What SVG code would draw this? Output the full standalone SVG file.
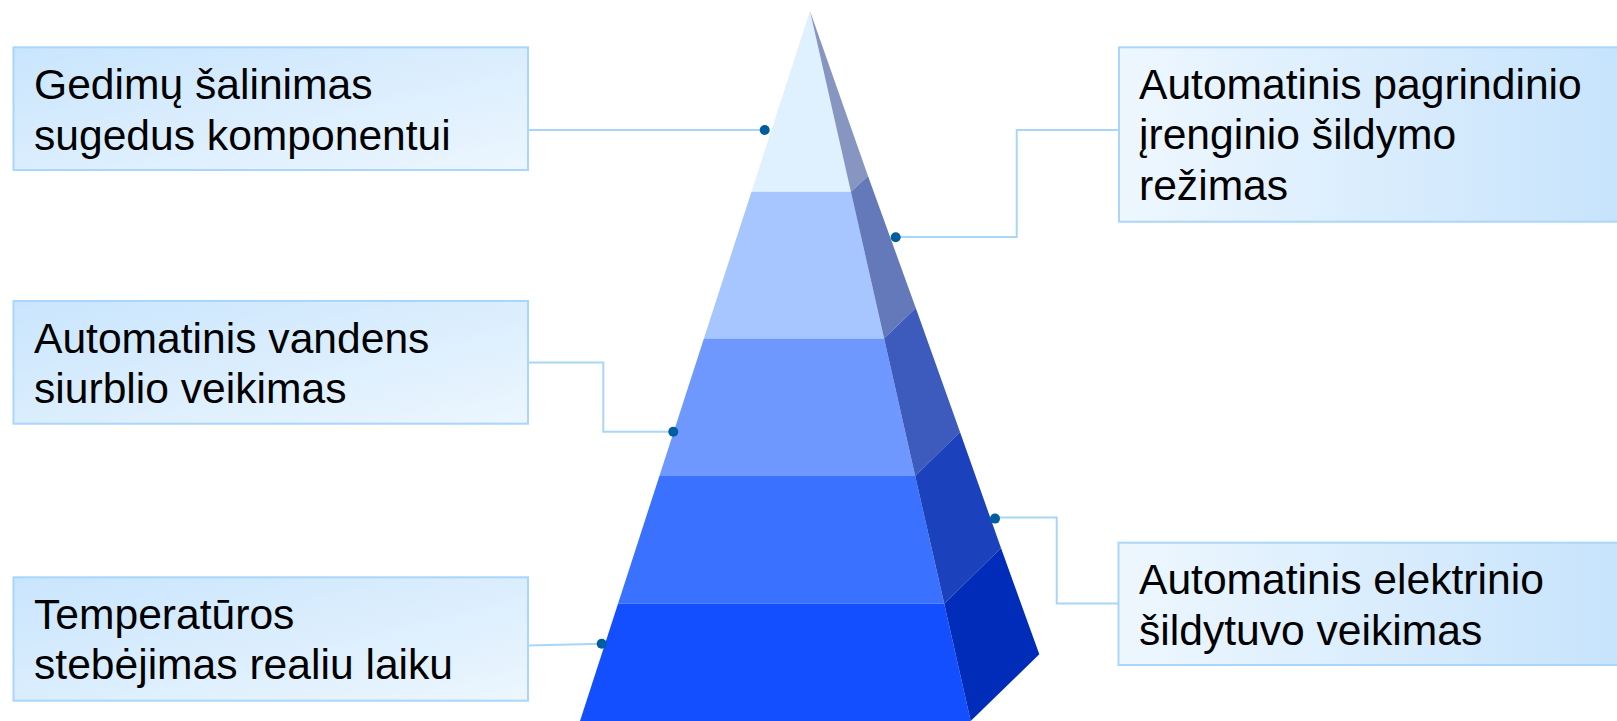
<svg xmlns="http://www.w3.org/2000/svg" width="1617" height="721" viewBox="0 0 1617 721">
  <defs>
    <linearGradient id="gl" x1="0" y1="0" x2="1" y2="1">
      <stop offset="0" stop-color="#C9E5FD"/>
      <stop offset="1" stop-color="#ECF6FE"/>
    </linearGradient>
    <linearGradient id="gr" x1="0" y1="0" x2="1" y2="0">
      <stop offset="0" stop-color="#EEF7FE"/>
      <stop offset="1" stop-color="#C6E3FC"/>
    </linearGradient>
    <style>
      .box { stroke: #A9D6FA; stroke-width: 2; }
      .bl { fill: url(#gl); }
      .br { fill: url(#gr); }
      .t { font-family: "Liberation Sans", Arial, sans-serif; font-size: 42.6px; fill: #000; }
      .c { fill: none; stroke: #A9D6F7; stroke-width: 2; }
      .dot { fill: #005E9E; }
    </style>
  </defs>
  <rect width="1617" height="721" fill="#FFFFFF"/>

  <g id="pyramid">
    <polygon points="810,11 751.5,191.7 850.9,191.7" fill="#DFF0FF"/>
    <polygon points="751.5,191.7 703.9,338.4 884.1,338.4 850.9,191.7" fill="#A7C5FF"/>
    <polygon points="703.9,338.4 659.4,475.9 915.2,475.9 884.1,338.4" fill="#6F98FF"/>
    <polygon points="659.4,475.9 618,603.7 944.2,603.7 915.2,475.9" fill="#3B71FF"/>
    <polygon points="618,603.7 580,721 970.7,721 944.2,603.7" fill="#144FFF"/>
    <polygon points="810,11 850.9,191.7 868,176" fill="#8796C0"/>
    <polygon points="850.9,191.7 884.1,338.4 915.8,308 868,176" fill="#6479BA"/>
    <polygon points="884.1,338.4 915.2,475.9 960,432 915.8,308" fill="#3D5BBD"/>
    <polygon points="915.2,475.9 944.2,603.7 1001,548 960,432" fill="#1B41BD"/>
    <polygon points="944.2,603.7 970.7,721 1039.3,654.3 1001,548" fill="#002CBA"/>
  </g>

  <g id="connectors">
    <polyline class="c" points="528,130 764.7,130"/>
    <polyline class="c" points="895.7,237 1016.7,237 1016.7,130 1119,130"/>
    <polyline class="c" points="528,362.5 603.3,362.5 603.3,431.7 673.3,431.7"/>
    <polyline class="c" points="995,517.5 1056.7,517.5 1056.7,603.5 1118,603.5"/>
    <polyline class="c" points="528,645.5 601.7,643.7"/>
    <circle class="dot" cx="764.7" cy="130" r="5"/>
    <circle class="dot" cx="895.7" cy="237.2" r="5"/>
    <circle class="dot" cx="673.3" cy="431.7" r="5"/>
    <circle class="dot" cx="995" cy="518.6" r="5"/>
    <circle class="dot" cx="601.7" cy="643.7" r="5"/>
  </g>

  <g id="node1">
    <rect class="box bl" x="13.5" y="47.3" width="514.5" height="122.7"/>
    <text class="t" x="34" y="99">Gedimų šalinimas</text>
    <text class="t" x="34" y="149.5">sugedus komponentui</text>
  </g>
  <g id="node2">
    <rect class="box br" x="1119" y="47.3" width="510" height="174.4"/>
    <text class="t" x="1139" y="98.5">Automatinis pagrindinio</text>
    <text class="t" x="1139" y="149">įrenginio šildymo</text>
    <text class="t" x="1139" y="199.5">režimas</text>
  </g>
  <g id="node3">
    <rect class="box bl" x="13.5" y="301" width="514.5" height="122.7"/>
    <text class="t" x="34" y="352.7">Automatinis vandens</text>
    <text class="t" x="34" y="403">siurblio veikimas</text>
  </g>
  <g id="node4">
    <rect class="box br" x="1118.5" y="542.7" width="510" height="122.3"/>
    <text class="t" x="1139" y="594.4">Automatinis elektrinio</text>
    <text class="t" x="1139" y="644.5">šildytuvo veikimas</text>
  </g>
  <g id="node5">
    <rect class="box bl" x="13.5" y="577.3" width="514.5" height="123.4"/>
    <text class="t" x="34" y="628.7">Temperatūros</text>
    <text class="t" x="34" y="679">stebėjimas realiu laiku</text>
  </g>
</svg>
